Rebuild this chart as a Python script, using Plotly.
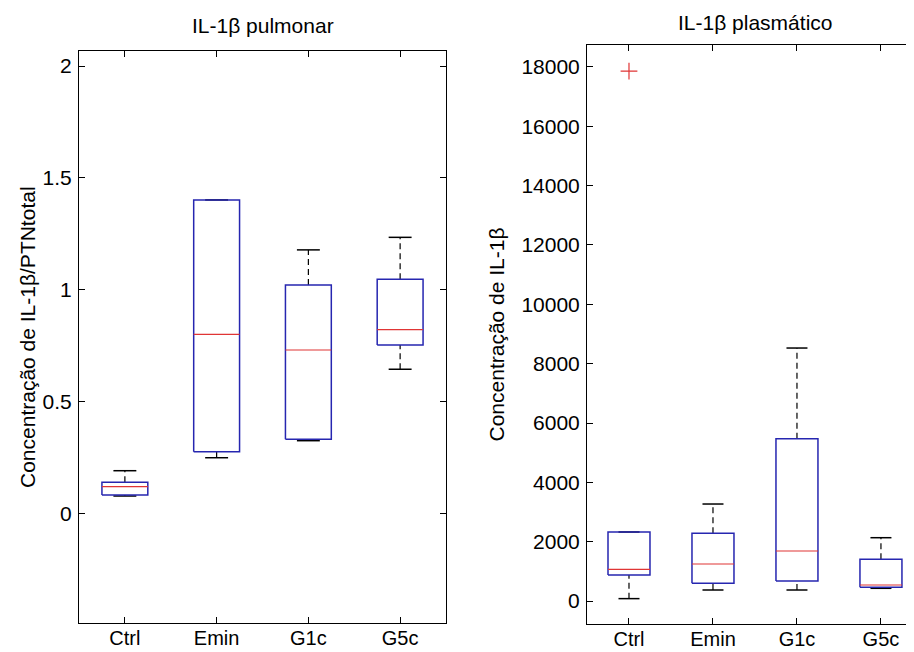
import plotly.graph_objects as go

# ---------------- data ----------------
categories = ["Ctrl", "Emin", "G1c", "G5c"]

pulm_lower = [0.080, 0.251, 0.327, 0.646]
pulm_q1 = [0.085, 0.278, 0.333, 0.754]
pulm_median = [0.122, 0.802, 0.732, 0.823]
pulm_q3 = [0.141, 1.402, 1.022, 1.048]
pulm_upper = [0.193, 1.402, 1.179, 1.235]

plasma_lower = [80, 371, 371, 428]
plasma_q1 = [876, 596, 674, 462]
plasma_median = [1068, 1247, 1685, 539]
plasma_q3 = [2326, 2281, 5470, 1405]
plasma_upper = [2326, 3269, 8527, 2134]
plasma_outlier_cat = ["Ctrl"]
plasma_outlier_val = [17860]

pulm_ticks = [0, 0.5, 1, 1.5, 2]
pulm_ticktext = ["0", "0.5", "1", "1.5", "2"]
plasma_ticks = [0, 2000, 4000, 6000, 8000, 10000, 12000, 14000, 16000, 18000]
plasma_ticktext = ["0", "2000", "4000", "6000", "8000", "10000", "12000", "14000", "16000", "18000"]

titles = ["IL-1β pulmonar", "IL-1β plasmático"]
ylabels = ["Concentração de IL-1β/PTNtotal", "Concentração de IL-1β"]

# ---------------- style ----------------
FONT = "Liberation Sans, Arial, Helvetica, sans-serif"
BOX_COLOR = "#2626b0"
MED_COLOR = "#e03535"
HALF_W = 0.25
CAP_W = 0.125
OFF = 8                     # page body margin of the browser
W, H = 914 - OFF, 652 - OFF

positions = [i + 1 for i in range(len(categories))]


def box_traces(xa, ya, lower, q1, med, q3, upper):
    bx, by, mx, my, wx, wy, cx, cy = [], [], [], [], [], [], [], []
    for p, lo, a, m, b, up in zip(positions, lower, q1, med, q3, upper):
        bx += [p - HALF_W, p + HALF_W, p + HALF_W, p - HALF_W, p - HALF_W, None]
        by += [a, a, b, b, a, None]
        mx += [p - HALF_W, p + HALF_W, None]
        my += [m, m, None]
        wx += [p, p, None, p, p, None]
        wy += [b, up, None, lo, a, None]
        cx += [p - CAP_W, p + CAP_W, None, p - CAP_W, p + CAP_W, None]
        cy += [up, up, None, lo, lo, None]
    common = dict(xaxis=xa, yaxis=ya, mode="lines", showlegend=False, hoverinfo="skip")
    return [
        go.Scatter(x=wx, y=wy, line=dict(color="black", width=1.2, dash="6px,4px"), **common),
        go.Scatter(x=cx, y=cy, line=dict(color="black", width=1.5), **common),
        go.Scatter(x=bx, y=by, line=dict(color=BOX_COLOR, width=1.5), **common),
        go.Scatter(x=mx, y=my, line=dict(color=MED_COLOR, width=1.2), **common),
    ]


fig = go.Figure()
for t in box_traces("x", "y", pulm_lower, pulm_q1, pulm_median, pulm_q3, pulm_upper):
    fig.add_trace(t)
for t in box_traces("x2", "y2", plasma_lower, plasma_q1, plasma_median, plasma_q3, plasma_upper):
    fig.add_trace(t)

fig.add_trace(go.Scatter(
    x=[positions[categories.index(c)] for c in plasma_outlier_cat],
    y=plasma_outlier_val, xaxis="x2", yaxis="y2", mode="markers",
    marker=dict(symbol="cross-thin", size=12, line=dict(color=MED_COLOR, width=1.2)),
    showlegend=False, hoverinfo="skip"))

# domains in screen pixels (converted to figure pixels)
L1, R1, T1, B1 = 79, 446, 51, 623
L2, R2, T2, B2 = 587, 914, 45, 624


def px_x(v):
    return (v - OFF) / W


def px_y(v):
    return 1 - (v - OFF) / H


axis_common = dict(
    showgrid=False, zeroline=False, showline=True, linecolor="black", linewidth=1,
    ticks="inside", ticklen=6, tickcolor="black", tickwidth=1,
)
yfont = dict(family=FONT, size=21, color="black")
xfont = dict(family=FONT, size=20, color="black")

fig.update_layout(
    width=W, height=H, template="none",
    margin=dict(l=0, r=0, t=0, b=0),
    paper_bgcolor="white", plot_bgcolor="white",
    xaxis=dict(domain=[px_x(L1), px_x(R1)], range=[0.5, 4.5], tickvals=positions,
               ticktext=categories, mirror="ticks", anchor="y", tickfont=xfont,
               ticklabelstandoff=-3, **axis_common),
    yaxis=dict(domain=[px_y(B1), px_y(T1)], range=[-0.487, 2.067], tickvals=pulm_ticks,
               ticktext=pulm_ticktext, mirror="ticks", anchor="x", ticklabelstandoff=2,
               tickfont=yfont, **axis_common),
    xaxis2=dict(domain=[px_x(L2), px_x(R2)], range=[0.5, 4.5 - (923 - 914) / 84.5],
                tickvals=positions, ticktext=categories, mirror="ticks", anchor="y2",
                tickfont=xfont, ticklabelstandoff=-3, **axis_common),
    yaxis2=dict(domain=[px_y(B2), px_y(T2)], range=[-775, 18741], tickvals=plasma_ticks,
                ticktext=plasma_ticktext, mirror=False, anchor="x2", ticklabelstandoff=2,
                tickfont=yfont, **axis_common),
    annotations=[
        dict(text=titles[0], xref="x", x=2.5, yref="paper", y=px_y(25), showarrow=False,
             xanchor="center", yanchor="middle", font=dict(family=FONT, size=21, color="black")),
        dict(text=titles[1], xref="x2", x=2.5, yref="paper", y=px_y(23), showarrow=False,
             xanchor="center", yanchor="middle", font=dict(family=FONT, size=21, color="black")),
        dict(text=ylabels[0], xref="paper", x=px_x(27), yref="paper", y=px_y((T1 + B1) / 2),
             textangle=-90, showarrow=False, xanchor="center", yanchor="middle",
             font=dict(family=FONT, size=21, color="black")),
        dict(text=ylabels[1], xref="paper", x=px_x(496), yref="paper", y=px_y((T2 + B2) / 2),
             textangle=-90, showarrow=False, xanchor="center", yanchor="middle",
             font=dict(family=FONT, size=21, color="black")),
    ],
)

fig.write_html("out.html")
